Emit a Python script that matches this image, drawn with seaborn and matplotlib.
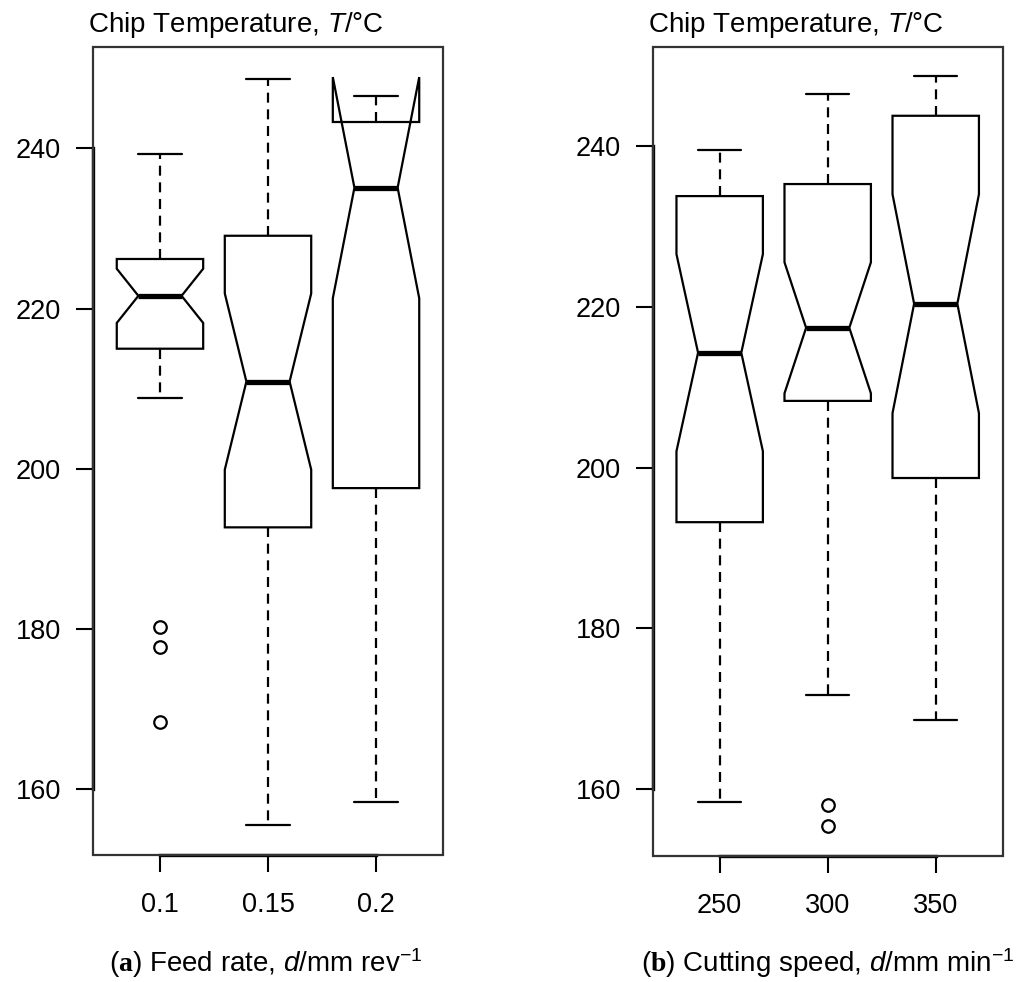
import matplotlib
matplotlib.use("Agg")
import matplotlib.pyplot as plt
from matplotlib.patches import Rectangle
import numpy as np
import pandas as pd
import seaborn as sns

# ---------------- data (27 runs per level) ----------------
feed_levels = ["0.1", "0.15", "0.2"]
speed_levels = ["250", "300", "350"]

temp_feed_010 = [168.4, 177.8, 180.3, 208.8, 211.5, 213.9, 214.7, 215.3, 216.8,
                 218.0, 219.2, 220.1, 221.0, 221.6, 222.3, 222.9, 223.6, 224.4,
                 225.1, 225.9, 226.5, 227.8, 229.4, 231.2, 233.5, 236.0, 239.3]
temp_feed_015 = [155.5, 163.2, 170.8, 176.4, 182.1, 187.9, 192.3, 193.1, 196.4,
                 199.8, 203.5, 206.7, 209.2, 210.9, 213.0, 215.8, 218.9, 222.4,
                 226.1, 228.6, 229.6, 232.4, 235.7, 238.9, 241.6, 245.2, 248.7]
temp_feed_020 = [158.4, 166.9, 174.5, 181.2, 187.0, 192.8, 197.1, 198.1, 204.6,
                 211.3, 218.5, 225.2, 231.0, 235.1, 237.2, 238.6, 239.9, 241.0,
                 242.1, 243.0, 243.6, 244.2, 244.8, 245.3, 245.8, 246.2, 246.6]

temp_speed_250 = [158.4, 165.3, 172.6, 178.9, 184.7, 189.6, 192.8, 193.6, 197.5,
                  201.4, 205.2, 208.7, 211.9, 214.3, 217.0, 220.4, 224.1, 227.6,
                  230.5, 233.4, 234.2, 235.0, 235.9, 236.8, 237.7, 238.6, 239.6]
temp_speed_300 = [155.4, 158.0, 171.7, 182.6, 194.3, 203.1, 207.9, 208.7, 210.4,
                  211.9, 213.5, 215.0, 216.3, 217.4, 219.2, 221.8, 225.0, 228.3,
                  231.6, 234.8, 235.8, 237.4, 239.1, 240.9, 242.6, 244.5, 246.5]
temp_speed_350 = [168.6, 175.2, 181.9, 187.4, 192.0, 195.8, 198.3, 199.1, 202.6,
                  206.4, 210.3, 214.1, 217.6, 220.4, 223.9, 227.8, 231.5, 235.2,
                  238.6, 243.4, 244.2, 245.0, 245.8, 246.6, 247.3, 248.0, 248.8]

y_ticks = [160, 180, 200, 220, 240]
title_text = "Chip Temperature, $T$/\u00b0C"
xlabel_a = r"($\mathbf{a}$) Feed rate, $d$/mm rev$^{-1}$"
xlabel_b = r"($\mathbf{b}$) Cutting speed, $d$/mm min$^{-1}$"

df_feed = pd.DataFrame({
    "level": [feed_levels[0]] * len(temp_feed_010) + [feed_levels[1]] * len(temp_feed_015)
             + [feed_levels[2]] * len(temp_feed_020),
    "temp": temp_feed_010 + temp_feed_015 + temp_feed_020,
})
df_speed = pd.DataFrame({
    "level": [speed_levels[0]] * len(temp_speed_250) + [speed_levels[1]] * len(temp_speed_300)
             + [speed_levels[2]] * len(temp_speed_350),
    "temp": temp_speed_250 + temp_speed_300 + temp_speed_350,
})

# ---------------- style ----------------
sns.set_style("ticks")
plt.rcParams["font.family"] = ["Liberation Sans", "DejaVu Sans"]
plt.rcParams["text.color"] = "black"
plt.rcParams["xtick.color"] = "black"
plt.rcParams["ytick.color"] = "black"
plt.rcParams["mathtext.fontset"] = "custom"
plt.rcParams["mathtext.rm"] = "Liberation Sans"
plt.rcParams["mathtext.it"] = "Liberation Sans:italic"
plt.rcParams["mathtext.bf"] = "Liberation Serif:bold"

W, H = 1022, 982
fig = plt.figure(figsize=(W / 100, H / 100), dpi=100)
fig.patch.set_facecolor("white")

panels = [
    (df_feed, feed_levels, [93 / W, 1 - 855 / H, 350 / W, (855 - 46.7) / H], (151.8, 252.7), xlabel_a, 266),
    (df_speed, speed_levels, [652.7 / W, 1 - 855.5 / H, 350 / W, (855.5 - 46.7) / H], (151.7, 252.4), xlabel_b, 828),
]

for df, levels, rect, ylim, xlabel, xc in panels:
    ax = fig.add_axes(rect)
    sns.boxplot(
        data=df, x="level", y="temp", order=levels, ax=ax,
        notch=True, width=0.8, color="white", linecolor="black", linewidth=1.6,
        fliersize=9,
        whiskerprops={"linestyle": (0, (4.5, 3))},
        medianprops={"linewidth": 3.8},
        flierprops={"marker": "o", "markerfacecolor": "none",
                    "markeredgecolor": "black", "markeredgewidth": 1.6},
    )
    ax.set_xlim(-0.62, 2.62)
    ax.set_ylim(*ylim)
    ax.set_yticks(y_ticks)
    ax.set_xlabel("")
    ax.set_ylabel("")
    ax.tick_params(axis="both", direction="out", length=12, width=1.5,
                   labelsize=19.5, colors="black", labelcolor="black")
    ax.tick_params(axis="y", pad=11)
    ax.tick_params(axis="x", pad=15)
    for s in ["top", "right"]:
        ax.spines[s].set_visible(False)
    ax.spines["left"].set_bounds(y_ticks[0], y_ticks[-1])
    ax.spines["bottom"].set_bounds(0, len(levels) - 1)
    for s in ["left", "bottom"]:
        ax.spines[s].set_linewidth(2.4)
        ax.spines[s].set_color("black")
    ax.add_patch(Rectangle((0, 0), 1, 1, transform=ax.transAxes, fill=False,
                           edgecolor="#333333", linewidth=1.6, clip_on=False, zorder=5))
    x0 = rect[0] - 5 / W
    fig.text(x0, 1 - 32.3 / H, title_text, ha="left", va="baseline", fontsize=20, color="black")
    fig.text(xc / W, 1 - 963 / H, xlabel, ha="center", va="center", fontsize=20, color="black")

fig.savefig("out.png", dpi=100, facecolor="white")
